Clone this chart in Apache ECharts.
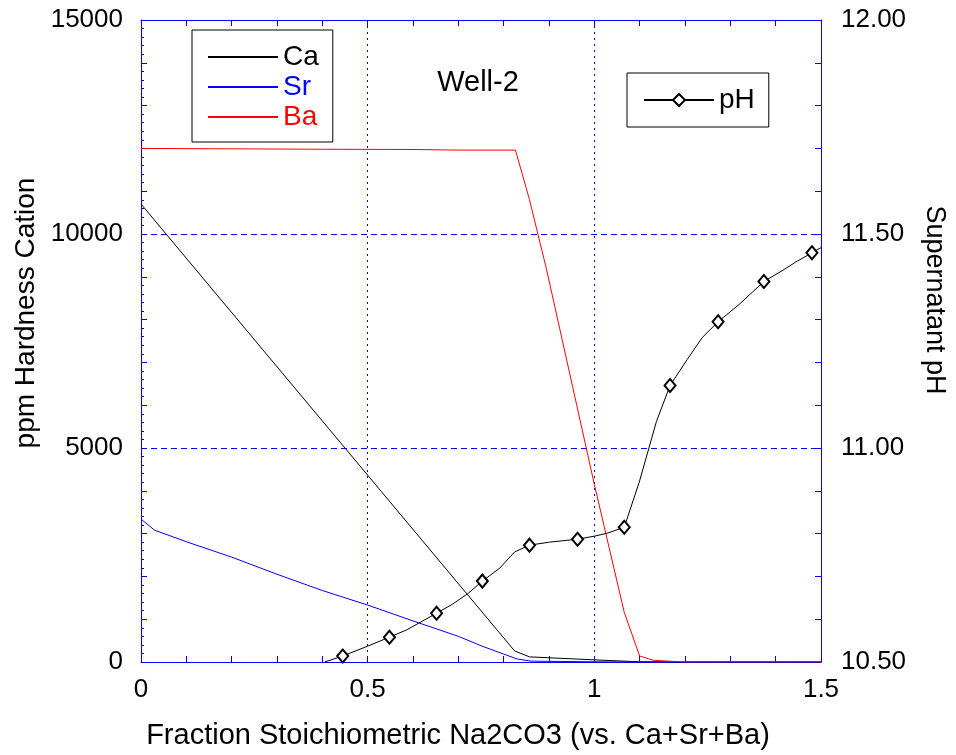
<!DOCTYPE html>
<html><head><meta charset="utf-8">
<script src="https://cdn.jsdelivr.net/npm/echarts@6/dist/echarts.min.js"></script>
<style>html,body{margin:0;padding:0;background:#fff}#c{width:956px;height:755px}</style>
</head><body><div id="c"></div>
<script>
// ---- data ----
const caX = [0, 0.824, 0.857, 1.0, 1.1, 1.2, 1.5];
const caY = [10700, 260, 120, 50, 5, 0, 0];

const srX = [0, 0.03, 0.1, 0.2, 0.3, 0.4, 0.5, 0.6, 0.7, 0.75, 0.8, 0.83, 0.86, 1.0, 1.1, 1.5];
const srY = [3340, 3080, 2810, 2450, 2050, 1670, 1330, 960, 600, 380, 185, 70, 20, 5, 0, 0];

const baX = [0, 0.2, 0.4, 0.6, 0.7, 0.826, 0.857, 0.894, 1.0, 1.066, 1.1, 1.13, 1.2, 1.5];
const baY = [12000, 11990, 11980, 11975, 11960, 11960, 10800, 9200, 4150, 1160, 140, 40, 0, 0];

const phX = [0.405, 0.445, 0.5, 0.548, 0.586, 0.652, 0.687, 0.72, 0.753, 0.791, 0.824, 0.857, 0.901, 0.963, 1.0, 1.029, 1.066, 1.099, 1.137, 1.167, 1.205, 1.238, 1.273, 1.319, 1.374, 1.414, 1.445, 1.48, 1.5];
const phY = [10.500, 10.514, 10.537, 10.558, 10.575, 10.614, 10.635, 10.659, 10.689, 10.719, 10.757, 10.773, 10.780, 10.787, 10.794, 10.801, 10.815, 10.920, 11.062, 11.146, 11.207, 11.258, 11.295, 11.335, 11.389, 11.414, 11.435, 11.456, 11.468];
const phMarkerX = [0.445, 0.548, 0.652, 0.753, 0.857, 0.963, 1.066, 1.167, 1.273, 1.374, 1.48];

const xTickLabels = ['0', '0.5', '1', '1.5'];
const leftTickLabels = ['0', '5000', '10000', '15000'];
const rightTickLabels = ['10.50', '11.00', '11.50', '12.00'];

// ---- chart ----
const font = '"Liberation Sans", Arial, sans-serif';
const blue = '#0000ff';
const pair = (xs, ys) => xs.map((x, i) => [x, ys[i]]);

const chart = echarts.init(document.getElementById('c'), null, {renderer: 'canvas'});

const frameAxisCommon = {
  axisLine: {show: true, onZero: false, lineStyle: {color: blue, width: 1}},
  axisTick: {show: true, inside: true, length: 6, lineStyle: {color: blue, width: 1}},
  minorTick: {show: true, splitNumber: 5, length: 6, lineStyle: {color: blue, width: 1}},
};

const option = {
  animation: false,
  backgroundColor: '#fff',
  textStyle: {fontFamily: font},
  grid: {left: 141, right: 134, top: 20, bottom: 92, containLabel: false},
  xAxis: [
    Object.assign({
      type: 'value', min: 0, max: 1.5, interval: 0.5, position: 'bottom',
      axisLabel: {color: '#000', fontSize: 26, fontFamily: font, margin: 15,
        formatter: v => xTickLabels[Math.round(v / 0.5)]},
      splitLine: {show: true, lineStyle: {color: blue, width: 1, type: [2, 4]}},
      name: 'Fraction Stoichiometric Na2CO3 (vs. Ca+Sr+Ba)', nameLocation: 'middle', nameGap: 59,
      nameTextStyle: {color: '#000', fontSize: 29, fontFamily: font, padding: [0, 46, 0, 0]}
    }, frameAxisCommon),
    Object.assign({
      type: 'value', min: 0, max: 1.5, interval: 0.5, position: 'top',
      axisLabel: {show: false}, splitLine: {show: false}
    }, frameAxisCommon)
  ],
  yAxis: [
    Object.assign({
      type: 'value', min: 0, max: 15000, interval: 5000, position: 'left',
      axisLabel: {color: '#000', fontSize: 26, fontFamily: font, margin: 18,
        formatter: v => leftTickLabels[Math.round(v / 5000)]},
      splitLine: {show: true, lineStyle: {color: blue, width: 1, type: [6, 4]}},
      name: 'ppm Hardness Cation', nameLocation: 'middle', nameGap: 96, nameRotate: 90,
      nameTextStyle: {color: '#000', fontSize: 28, fontFamily: font, padding: [0, 0, 0, 56]}
    }, frameAxisCommon),
    Object.assign({
      type: 'value', min: 10.5, max: 12.0, interval: 0.5, position: 'right',
      axisLabel: {color: '#000', fontSize: 26, fontFamily: font, margin: 20,
        formatter: v => rightTickLabels[Math.round((v - 10.5) / 0.5)]},
      splitLine: {show: false},
      name: 'Supernatant pH', nameLocation: 'middle', nameGap: 100, nameRotate: -90,
      nameTextStyle: {color: '#000', fontSize: 27, fontFamily: font, padding: [0, 82, 0, 0]}
    }, frameAxisCommon),
    {
      type: 'value', min: 0, max: 15000, interval: 200, position: 'left',
      axisLine: {show: false}, axisLabel: {show: false}, splitLine: {show: false},
      axisTick: {show: true, inside: true, length: 3, lineStyle: {color: blue, width: 1}}
    }
  ],
  legend: [
    {
      left: 192, top: 30, orient: 'vertical',
      padding: [13, 14, 11, 15],
      itemWidth: 70, itemHeight: 14, itemGap: 2,
      borderColor: '#000', borderWidth: 1,
      itemStyle: {color: 'rgba(0,0,0,0)', borderWidth: 0},
      textStyle: {fontSize: 28, fontFamily: font, lineHeight: 28},
      data: [
        {name: 'Ca', textStyle: {color: '#000'}},
        {name: 'Sr', textStyle: {color: '#0000ff'}},
        {name: 'Ba', textStyle: {color: '#ff0000'}}
      ]
    },
    {
      left: 627, top: 73, orient: 'vertical',
      padding: [13, 14, 13, 16],
      itemWidth: 70, itemHeight: 15,
      borderColor: '#000', borderWidth: 1,
      itemStyle: {color: '#000', borderColor: '#000', borderWidth: 1},
      textStyle: {fontSize: 28, fontFamily: font, color: '#000', lineHeight: 28},
      data: ['pH']
    }
  ],
  graphic: [{
    type: 'text', x: 478, y: 83,
    style: {text: 'Well-2', font: '29px ' + font, fill: '#000', align: 'center', verticalAlign: 'middle'}
  }],
  series: [
    {name: 'Ca', type: 'line', xAxisIndex: 0, yAxisIndex: 0, data: pair(caX, caY),
     symbol: 'none', lineStyle: {color: '#000', width: 1}, itemStyle: {color: '#000'}},
    {name: 'Sr', type: 'line', xAxisIndex: 0, yAxisIndex: 0, data: pair(srX, srY),
     symbol: 'none', lineStyle: {color: '#0000ff', width: 1}, itemStyle: {color: '#0000ff'}},
    {name: 'Ba', type: 'line', xAxisIndex: 0, yAxisIndex: 0, data: pair(baX, baY),
     symbol: 'none', lineStyle: {color: '#ff0000', width: 1}, itemStyle: {color: '#ff0000'}},
    {name: 'pH', type: 'line', xAxisIndex: 0, yAxisIndex: 1,
     data: phX.map((x, i) => phMarkerX.indexOf(x) >= 0
        ? {value: [x, phY[i]]}
        : {value: [x, phY[i]], symbol: 'none'}),
     symbol: 'emptyDiamond', symbolSize: [11, 13], showAllSymbol: true,
     lineStyle: {color: '#000', width: 1},
     itemStyle: {color: '#000', borderColor: '#000', borderWidth: 1}}
  ]
};
chart.setOption(option);
</script>
</body></html>
